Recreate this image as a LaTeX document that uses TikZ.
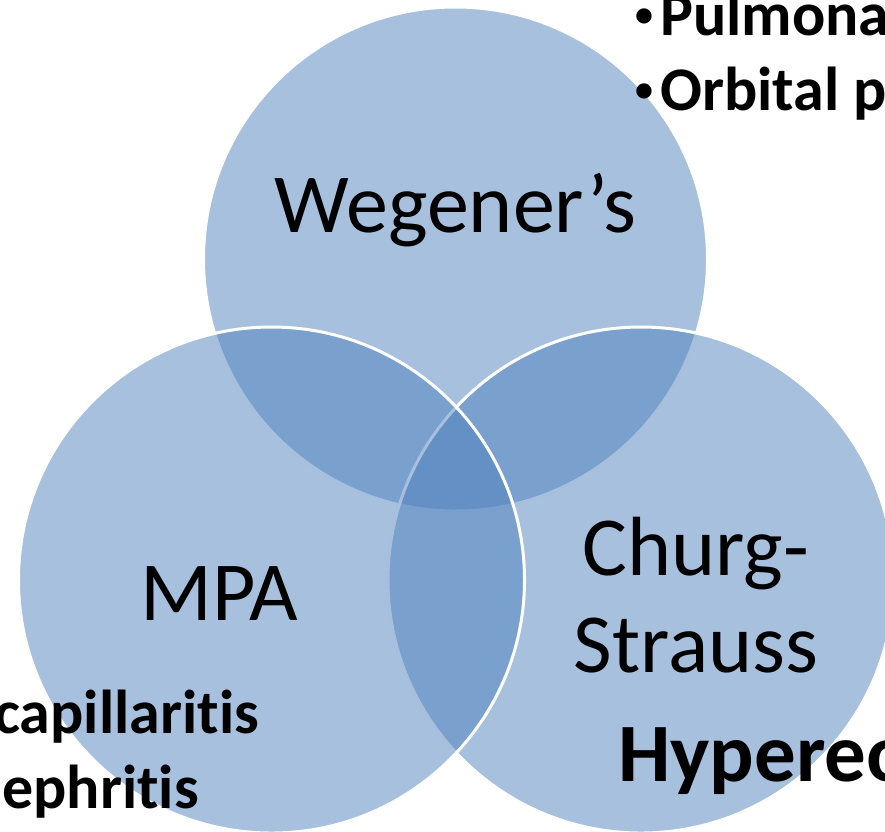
\documentclass[tikz,border=0pt]{standalone}
\usepackage{fontspec}
\setmainfont{Carlito}[Ligatures={NoCommon}]
\definecolor{vennblue}{RGB}{79,129,189}
\newcommand{\smallbullet}{\raisebox{9pt}{\fontsize{36}{36}\selectfont •}\hspace{7pt}}
\begin{document}
\begin{tikzpicture}[x=1pt,y=-1pt,
  venn/.style={fill=vennblue,fill opacity=0.5,draw=white,draw opacity=1,line width=3pt},
  biglabel/.style={inner sep=0pt,font=\fontsize{84}{97}\selectfont,text=black},
  sidebold/.style={inner sep=0pt,font=\bfseries\fontsize{62}{70}\selectfont,text=black},
  hyperbold/.style={inner sep=0pt,font=\bfseries\fontsize{83}{90}\selectfont,text=black}]
\useasboundingbox (0,0) rectangle (885,831);
\clip (0,0) rectangle (885,831);
\coordinate (cw) at (455.5,259);
\coordinate (cm) at (271.5,580);
\coordinate (cc) at (641,580);
\path[venn] (cw) circle[radius=252pt];
\path[venn] (cc) circle[radius=253pt];
\path[venn] (cm) circle[radius=253pt];
\node[biglabel,anchor=base] (weg) at (455.5,232) {Wegener’s};
\node[biglabel,anchor=base] (mpa) at (219.5,620) {MPA};
\node[biglabel,anchor=base] (cs1) at (696,575) {Churg-};
\node[biglabel,anchor=base] (cs2) at (696,672) {Strauss};
\node[sidebold,anchor=base west] (pul) at (635,35) {\smallbullet Pulmona};
\node[sidebold,anchor=base west] (orb) at (635,110) {\smallbullet Orbital p};
\node[sidebold,anchor=base east] (cap) at (259,733) {capillaritis};
\node[sidebold,anchor=base east] (eph) at (199,808) {ephritis};
\node[hyperbold,anchor=base west] (hyp) at (618,781) {Hypereo};
\end{tikzpicture}
\end{document}
